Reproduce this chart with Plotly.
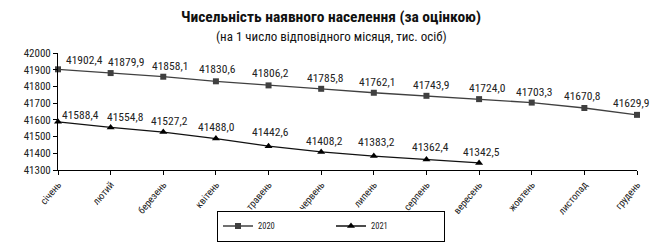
import plotly.graph_objects as go

months = ["січень", "лютий", "березень", "квітень", "травень", "червень",
          "липень", "серпень", "вересень", "жовтень", "листопад", "грудень"]
y2020 = [41902.4, 41879.9, 41858.1, 41830.6, 41806.2, 41785.8,
         41762.1, 41743.9, 41724.0, 41703.3, 41670.8, 41629.9]
y2021 = [41588.4, 41554.8, 41527.2, 41488.0, 41442.6, 41408.2,
         41383.2, 41362.4, 41342.5]
yticks = [41300, 41400, 41500, 41600, 41700, 41800, 41900, 42000]

# label placement (styling only: pixel offsets of the value labels)
dx2020 = [26, 15, 7, 2, 2, 4, 3, 5, 8, 2, -2, -6]
dy2020 = [9, 11, 11, 12, 12, 11, 11, 11, 11, 11, 12, 12]
dx2021 = [22, 15, 6, 1, 2, 3, 3, 4, 2]
dy2021 = [7, 10, 11, 12, 14, 11, 14, 13, 11]

FONT = "Liberation Sans Narrow, Arial Narrow, Roboto Condensed, sans-serif"

def fmt(v):
    return f"{v:.1f}".replace(".", ",")

fig = go.Figure()
fig.add_trace(go.Scatter(
    x=list(range(len(y2020))), y=y2020, name="2020",
    mode="lines+markers",
    line=dict(color="#404040", width=1.3),
    marker=dict(symbol="square", size=6, color="#404040"),
    cliponaxis=False,
))
fig.add_trace(go.Scatter(
    x=list(range(len(y2021))), y=y2021, name="2021",
    mode="lines+markers",
    line=dict(color="#111", width=1.3),
    marker=dict(symbol="triangle-up", size=7, color="#000"),
    cliponaxis=False,
))

for vals, dxs, dys in ((y2020, dx2020, dy2020), (y2021, dx2021, dy2021)):
    for i, v in enumerate(vals):
        fig.add_annotation(x=i, y=v, xref="x", yref="y", text=fmt(v),
                           showarrow=False, xanchor="center", yanchor="middle",
                           xshift=dxs[i], yshift=dys[i],
                           font=dict(family=FONT, size=11.5, color="#222"))

plot_w = 667 - 58 - 30
plot_h = 242 - 53 - 72
def px_x(x):
    return (x - 58) / plot_w
def px_y(y):
    return (242 - 72 - y) / plot_h

fig.update_layout(
    width=667, height=242,
    margin=dict(l=58, r=30, t=53, b=72, autoexpand=False),
    paper_bgcolor="white", plot_bgcolor="white",
    font=dict(family=FONT, color="#222"),
    showlegend=True,
    legend=dict(orientation="h", xref="container", x=331 / 667, xanchor="center",
                yref="container", y=(242 - 226) / 242, yanchor="middle",
                bgcolor="white", bordercolor="#000", borderwidth=1,
                font=dict(size=8.5, family=FONT),
                entrywidth=68, itemwidth=30, tracegroupgap=0),
)
fig.add_annotation(text="<b>Чисельність наявного населення (за оцінкою)</b>",
                   x=px_x(331), y=px_y(17), xref="paper", yref="paper",
                   xanchor="center", yanchor="middle",
                   showarrow=False, font=dict(size=15.5, family=FONT, color="#111"))
fig.add_annotation(text="(на 1 число відповідного місяця, тис. осіб)",
                   x=px_x(331), y=px_y(36), xref="paper", yref="paper",
                   xanchor="center", yanchor="middle",
                   showarrow=False, font=dict(size=13, family=FONT, color="#111"))

fig.update_xaxes(
    range=[0, 11], tickmode="array", tickvals=list(range(12)), ticktext=months,
    tickangle=-50, tickfont=dict(size=10, family=FONT), automargin=False,
    showline=True, linecolor="#000", linewidth=1, ticks="outside", ticklen=4,
    tickcolor="#000", showgrid=False, zeroline=False,
)
fig.update_yaxes(
    range=[41300, 42000], tickmode="array", tickvals=yticks, automargin=False,
    ticktext=[str(v) for v in yticks], tickfont=dict(size=11, family=FONT),
    showline=True, linecolor="#000", linewidth=1, ticks="outside", ticklen=4,
    tickcolor="#000", showgrid=False, zeroline=False,
)

fig.write_html("out.html")
